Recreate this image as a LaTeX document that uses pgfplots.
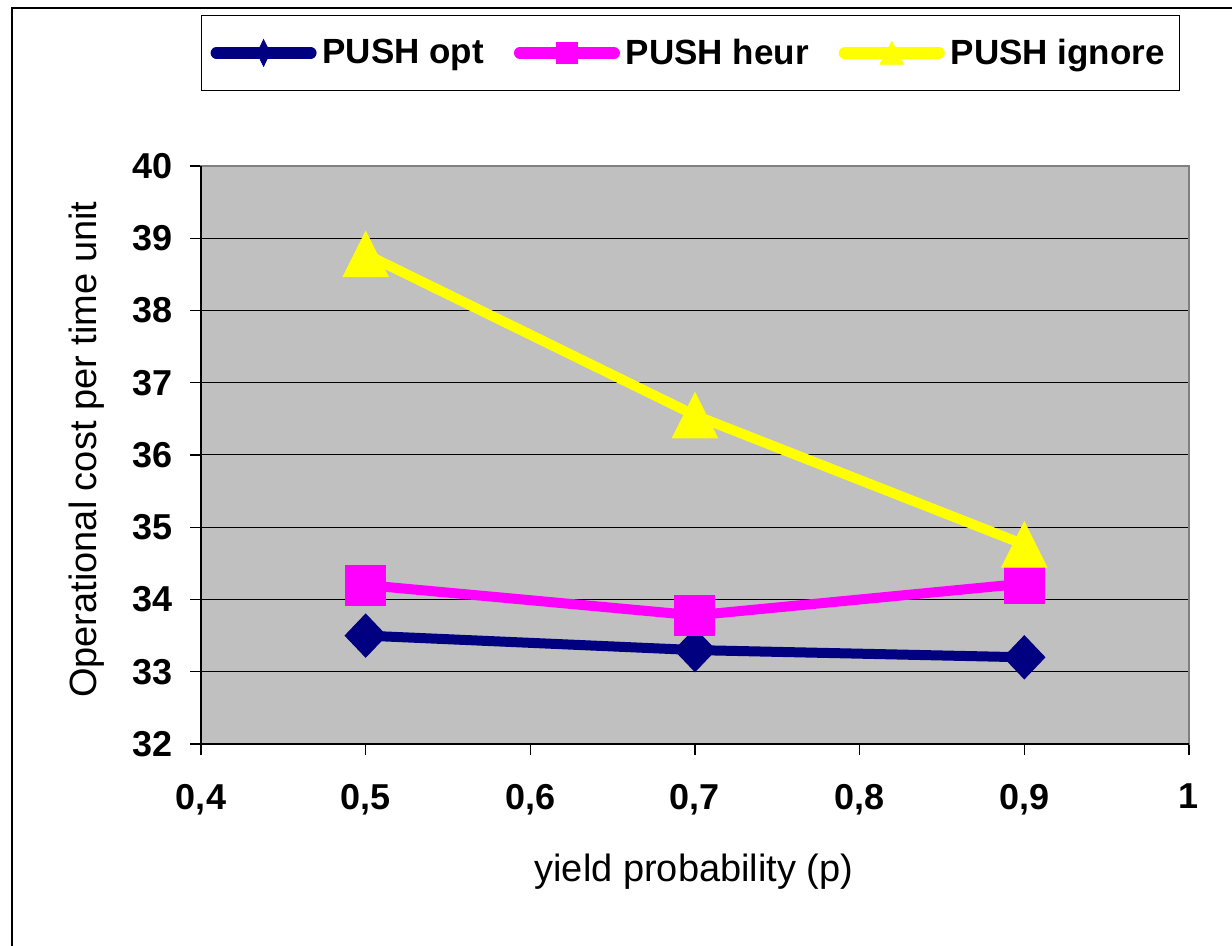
\documentclass[border=0pt]{standalone}
\usepackage{pgfplots}
\pgfplotsset{compat=1.18}
\usepackage{fontspec}
\setmainfont{Liberation Sans}
\definecolor{navyc}{HTML}{000080}
\definecolor{magc}{HTML}{FF00FF}
\definecolor{yelc}{HTML}{FFFF00}
\definecolor{plotgray}{HTML}{C0C0C0}
\definecolor{bordergray}{HTML}{808080}
\begin{document}
\begin{tikzpicture}
\useasboundingbox (0,0) rectangle (616pt,473pt);
\fill[white] (0,0) rectangle (616pt,473pt);
\draw[black, line width=1pt] (6pt,-2pt) -- (6pt,469pt) -- (620pt,469pt);
\begin{axis}[
  at={(100.5pt,101pt)}, anchor=south west,
  scale only axis, width=494pt, height=289pt,
  xmin=0.4, xmax=1, ymin=32, ymax=40,
  xtick={0.4,0.5,0.6,0.7,0.8,0.9,1},
  xticklabels={{0,4},{0,5},{0,6},{0,7},{0,8},{0,9},{1}},
  ytick={32,33,...,40},
  xtick pos=bottom, ytick pos=left, tick align=outside,
  major tick length=5.5pt,
  tick style={black, line width=0.6pt},
  ymajorgrids, grid style={black, line width=0.5pt},
  axis background/.style={fill=plotgray},
  axis line style={draw=bordergray, line width=0.9pt},
  clip=false,
  /pgf/number format/assume math mode=true,
  ticklabel style={font=\fontsize{18}{21}\selectfont\bfseries},
  yticklabel style={xshift=-5pt},
  xticklabel style={yshift=-11pt},
  xlabel={yield probability (p)},
  ylabel={Operational cost per time unit},
  every axis x label/.style={at={(axis description cs:0.499,-0.2215)},anchor=center,font=\fontsize{19}{23}\selectfont},
  every axis y label/.style={at={(axis description cs:-0.1154,0.509)},rotate=90,anchor=center,font=\fontsize{19}{23}\selectfont},
  legend columns=3,
  legend style={at={(axis description cs:0,1.261)}, anchor=north west, draw=black, line width=0.6pt,
    font=\fontsize{17.5}{21}\selectfont\bfseries, inner xsep=4.5pt, inner ysep=9.5pt,
    /tikz/every even column/.append style={column sep=12pt}, nodes={inner xsep=3pt}},
  legend image code/.code={\draw[mark repeat=2, mark phase=2, line cap=round, #1] plot coordinates {(2.75pt,0pt) (26.25pt,0pt) (49.75pt,0pt)};},
]
\addlegendimage{navyc, line width=6pt, mark=diamond*, mark size=6.75pt, mark options={xscale=0.65, fill=navyc, draw=navyc, line width=0.3pt}}
\addlegendimage{magc, line width=6pt, mark=square*, mark size=5.25pt, mark options={fill=magc, draw=magc, line width=0.3pt}}
\addlegendimage{yelc, line width=6pt, mark=triangle*, mark size=7.7pt, mark options={xscale=0.9, yshift=-1.9pt, fill=yelc, draw=yelc, line width=0.3pt}}
\legend{PUSH opt, PUSH heur, PUSH ignore\hspace{5pt}}
\addplot[navyc, line width=5pt, mark=diamond*, mark size=10.75pt, mark options={xscale=1.27, fill=navyc, draw=navyc, line width=0.5pt}, forget plot] coordinates {(0.5,33.5) (0.7,33.3) (0.9,33.2)};
\addplot[magc, line width=5pt, mark=square*, mark size=10pt, mark options={fill=magc, draw=magc, line width=0.5pt}, forget plot] coordinates {(0.5,34.2) (0.7,33.78) (0.9,34.22)};
\addplot[yelc, line width=5pt, mark=triangle*, mark size=15pt, mark options={xscale=0.866, yshift=-3.75pt, fill=yelc, draw=yelc, line width=0.5pt}, forget plot] coordinates {(0.5,38.78) (0.7,36.55) (0.9,34.76)};
\draw[black, line width=0.9pt] (rel axis cs:0,1) -- (rel axis cs:0,0) -- (rel axis cs:1,0);
\end{axis}
\end{tikzpicture}
\end{document}
